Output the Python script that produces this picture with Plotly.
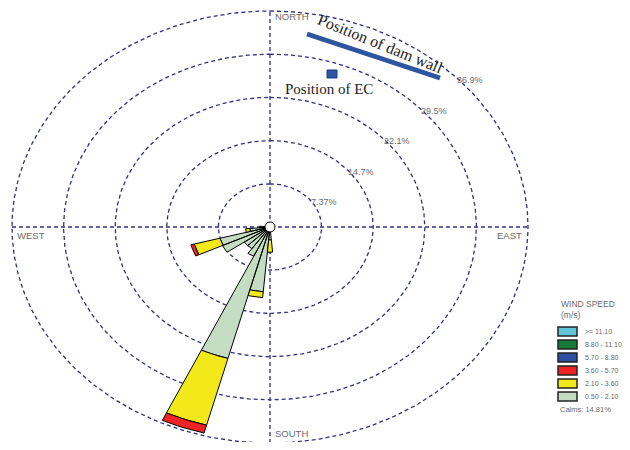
import numpy as np
import plotly.graph_objects as go

# ---------------- data ----------------
directions = [180, 190, 200, 210, 220, 230, 240, 250, 260, 270]
speed_classes = [">= 11.10", "8.80 - 11.10", "5.70 - 8.80", "3.60 - 5.70", "2.10 - 3.60", "0.50 - 2.10"]
class_colors = ["#62c6da", "#177a3a", "#2c4ea3", "#ee2424", "#f2e81a", "#c3dcc2"]
# frequencies (%) per direction, for each speed class (lowest class first)
freq_050_210 = [2.2, 11.1, 23.2, 5.5, 4.5, 4.5, 7.5, 7.4, 2.9, 1.5]
freq_210_360 = [2.1, 1.0, 11.8, 0.0, 0.0, 0.0, 0.0, 3.8, 0.6, 0.0]
freq_360_570 = [0.0, 0.0, 1.4, 0.0, 0.0, 0.0, 0.0, 0.5, 0.0, 0.0]
freq_570_880 = [0.0] * 10
freq_880_1110 = [0.0] * 10
freq_ge_1110 = [0.0] * 10
ring_values = [7.37, 14.74, 22.11, 29.48, 36.85]
ring_labels = ["7.37%", "14.7%", "22.1%", "29.5%", "36.9%"]
calms_text = "Calms: 14.81%"
compass_labels = ["NORTH", "SOUTH", "WEST", "EAST"]

OFF = 8                    # page body margin
W, H = 614, 434
CX, CY = 270 - OFF, 227 - OFF   # pixel centre of the rose (inside figure)
RX, RY = 258, 216          # pixel radii of outer ring
R = ring_values[-1]

def px(x):
    return (x - OFF) / W

def py(y):
    return 1 - (y - OFF) / H

fig = go.Figure()

# rings
t = np.linspace(0, 2 * np.pi, 361)
ring_color = "#2f2f86"
for rv in ring_values:
    fig.add_trace(go.Scatter(x=rv * np.sin(t), y=rv * np.cos(t), mode="lines",
                             line=dict(color=ring_color, width=1.3, dash="4px,3px"),
                             hoverinfo="skip", showlegend=False))
# axes
fig.add_trace(go.Scatter(x=[-R, R], y=[0, 0], mode="lines",
                         line=dict(color=ring_color, width=1.3, dash="4px,3px"),
                         hoverinfo="skip", showlegend=False))
fig.add_trace(go.Scatter(x=[0, 0], y=[-R, R], mode="lines",
                         line=dict(color=ring_color, width=1.3, dash="4px,3px"),
                         hoverinfo="skip", showlegend=False))

# petals
stack = [freq_050_210, freq_210_360, freq_360_570, freq_570_880, freq_880_1110, freq_ge_1110]
stack_colors = class_colors[::-1]
half = 5.0
base = np.zeros(len(directions))
for vals, col in zip(stack, stack_colors):
    xs, ys = [], []
    for i, d in enumerate(directions):
        r0 = base[i]
        r1 = base[i] + vals[i]
        if vals[i] <= 0:
            continue
        a = np.radians(np.linspace(d - half, d + half, 9))
        xo = list(r1 * np.sin(a)); yo = list(r1 * np.cos(a))
        xi = list(r0 * np.sin(a[::-1])); yi = list(r0 * np.cos(a[::-1]))
        xs += xo + xi + [xo[0], None]
        ys += yo + yi + [yo[0], None]
    base = base + np.array(vals)
    if xs:
        fig.add_trace(go.Scatter(x=xs, y=ys, mode="lines", fill="toself", fillcolor=col,
                                 line=dict(color="black", width=1), hoverinfo="skip",
                                 showlegend=False))

# calm circle
fig.add_trace(go.Scatter(x=[0], y=[0], mode="markers",
                         marker=dict(size=10, color="white", line=dict(color="black", width=1)),
                         hoverinfo="skip", showlegend=False))

x_lo = -CX / RX * R
x_hi = (W - CX) / RX * R
y_hi = CY / RY * R
y_lo = -(H - CY) / RY * R
fig.update_xaxes(range=[x_lo, x_hi], visible=False)
fig.update_yaxes(range=[y_lo, y_hi], visible=False)

ann = []
gray = "#6a6a6a"
cmp_font = dict(family="Liberation Sans, Arial", size=9.5, color=gray)
ann.append(dict(x=px(273), y=py(16), xref="paper", yref="paper", text=compass_labels[0],
                showarrow=False, xanchor="left", yanchor="middle", font=cmp_font))
ann.append(dict(x=px(273), y=py(433), xref="paper", yref="paper", text=compass_labels[1],
                showarrow=False, xanchor="left", yanchor="middle", font=cmp_font))
ann.append(dict(x=px(15), y=py(235), xref="paper", yref="paper", text=compass_labels[2],
                showarrow=False, xanchor="left", yanchor="middle", font=cmp_font))
ann.append(dict(x=px(524), y=py(235), xref="paper", yref="paper", text=compass_labels[3],
                showarrow=False, xanchor="right", yanchor="middle", font=cmp_font))

ring_font = dict(family="Liberation Sans, Arial", size=9, color=gray)
ang = np.radians(45)
for rv, lab in zip(ring_values, ring_labels):
    ann.append(dict(x=rv * np.sin(ang), y=rv * np.cos(ang), xref="x", yref="y", text=lab,
                    showarrow=False, xanchor="left", yanchor="middle", xshift=3, yshift=-6,
                    font=ring_font))

serif = dict(family="Liberation Serif, Times New Roman", size=16, color="#222222")
ann.append(dict(x=px(380), y=py(43), xref="paper", yref="paper", text="Position of dam wall",
                showarrow=False, textangle=22, xanchor="center", yanchor="middle", font=serif))
ann.append(dict(x=px(283), y=py(89), xref="paper", yref="paper", text="Position of EC",
                showarrow=False, xanchor="left", yanchor="middle",
                font=dict(family="Liberation Serif, Times New Roman", size=15, color="#222222")))

shapes = []
shapes.append(dict(type="line", xref="paper", yref="paper", x0=px(307), y0=py(34), x1=px(440),
                   y1=py(78), line=dict(color="#2d55a0", width=5)))
shapes.append(dict(type="rect", xref="paper", yref="paper", x0=px(327), y0=py(70), x1=px(337),
                   y1=py(78), fillcolor="#2d55a0", line=dict(color="#1e3d80", width=1)))

# legend (drawn)
head_font = dict(family="Liberation Sans, Arial", size=8.5, color=gray)
leg_font = dict(family="Liberation Sans, Arial", size=7, color=gray)
ann.append(dict(x=px(559), y=py(304), xref="paper", yref="paper", text="WIND SPEED",
                showarrow=False, xanchor="left", yanchor="middle", font=head_font))
ann.append(dict(x=px(559), y=py(315), xref="paper", yref="paper", text="(m/s)",
                showarrow=False, xanchor="left", yanchor="middle", font=head_font))
for k, (lab, col) in enumerate(zip(speed_classes, class_colors)):
    y0 = 327 + k * 13
    shapes.append(dict(type="rect", xref="paper", yref="paper", x0=px(558), x1=px(577),
                       y0=py(y0), y1=py(y0 + 9), fillcolor=col, line=dict(color="#222", width=1.5)))
    ann.append(dict(x=px(583), y=py(y0 + 4.5), xref="paper", yref="paper", text=lab,
                    showarrow=False, xanchor="left", yanchor="middle", font=leg_font))
ann.append(dict(x=px(558), y=py(409), xref="paper", yref="paper", text=calms_text,
                showarrow=False, xanchor="left", yanchor="middle",
                font=dict(family="Liberation Sans, Arial", size=7.5, color=gray)))

fig.update_layout(width=W, height=H, margin=dict(l=0, r=0, t=0, b=0),
                  paper_bgcolor="white", plot_bgcolor="white",
                  annotations=ann, shapes=shapes, showlegend=False)
fig.write_html("out.html")
